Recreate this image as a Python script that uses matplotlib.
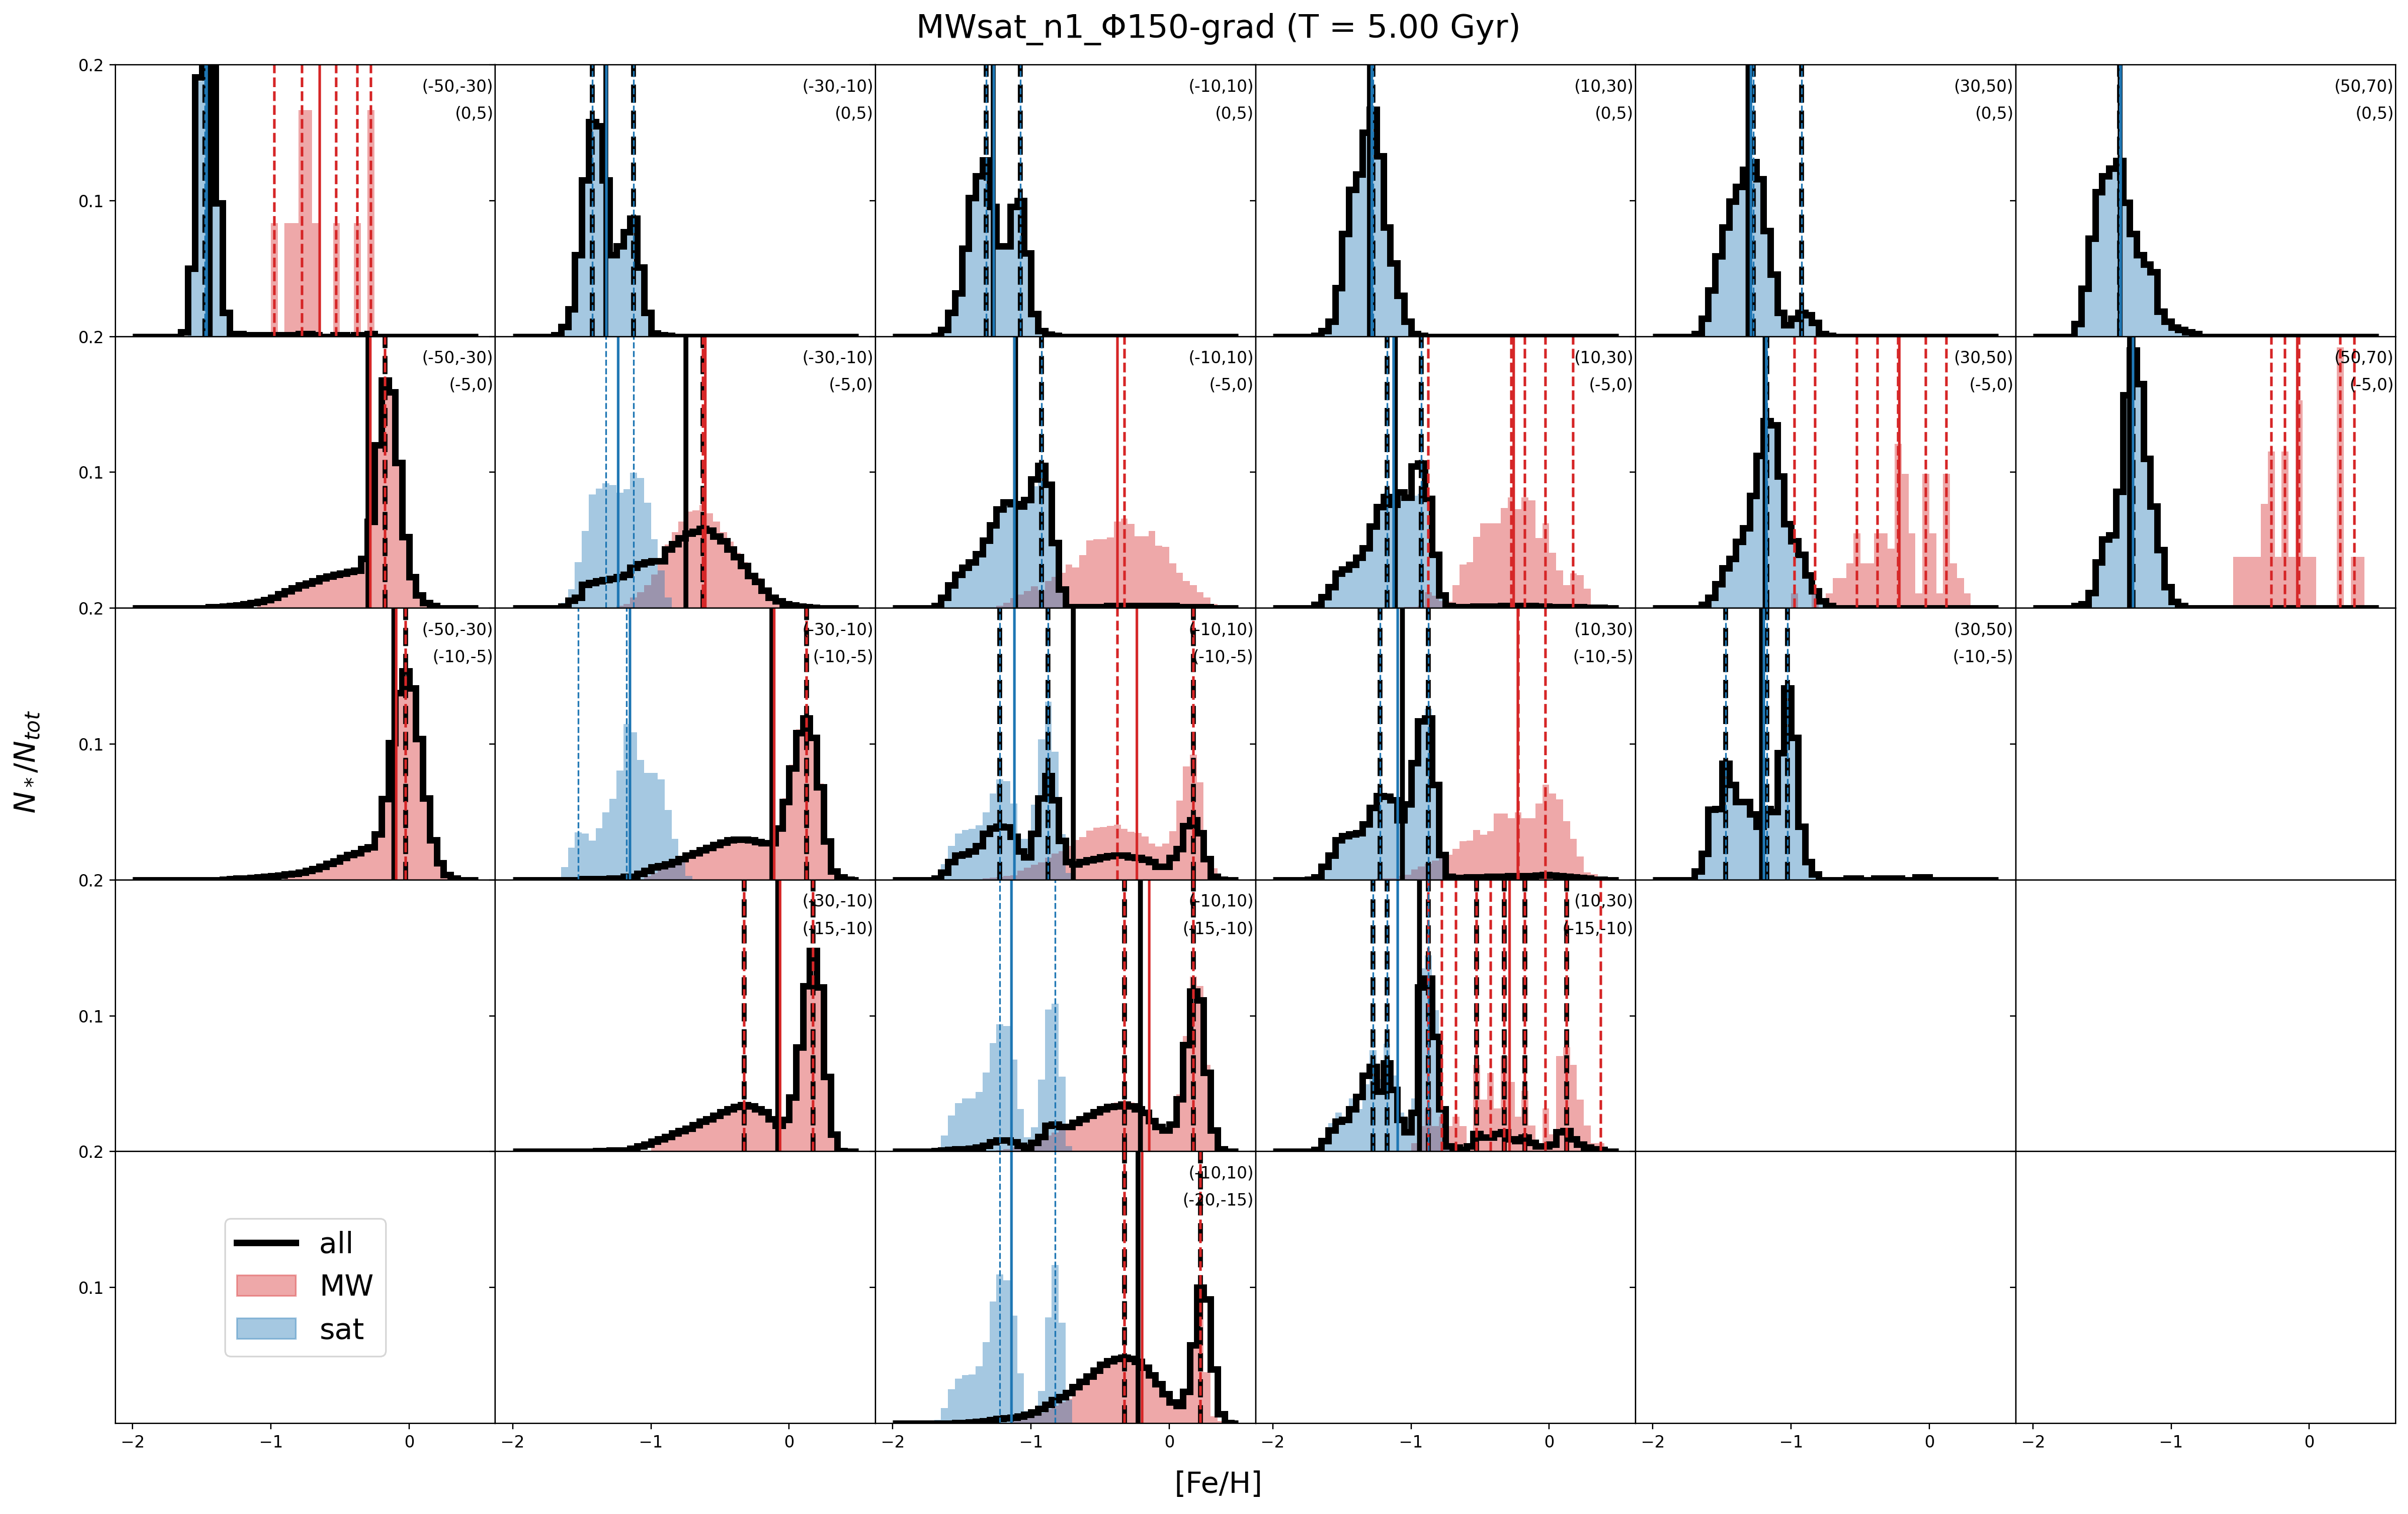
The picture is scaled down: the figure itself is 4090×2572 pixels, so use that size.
import numpy as np
import matplotlib.pyplot as plt
from matplotlib.lines import Line2D
from matplotlib.patches import Patch

# [Fe/H] bins shared by every panel
feh_edges = np.linspace(-2.0, 0.5, 51)

col_ranges = ['(-50,-30)', '(-30,-10)', '(-10,10)', '(10,30)', '(30,50)', '(50,70)']
row_ranges = ['(0,5)', '(-5,0)', '(-10,-5)', '(-15,-10)', '(-20,-15)']

# histograms: (left edge of first listed bin, fraction of stars per bin)
# means: (all, MW, sat); peaks: ([all], [MW], [sat])

# ---- z in (0,5)
all_r0c0 = (-1.65, [0.0035, 0.050, 0.191, 0.36, 0.29, 0.098, 0.0176, 0.002, 0.002, 0.001,
                    0.001, 0.001, 0.001, 0.001, 0.001, 0.001, 0.001, 0.002, 0.002, 0.001,
                    0.0, 0.0, 0.001, 0.001, 0.0, 0.001, 0.001, 0.002])
sat_r0c0 = (-1.6, [0.048, 0.188, 0.36, 0.29, 0.0975, 0.016])
mw_r0c0 = (-1.0, [0.0833, 0, 0.0833, 0.0833, 0.1667, 0.1667, 0.0833, 0, 0, 0.0833,
                  0, 0, 0.0833, 0, 0.1667])
mean_r0c0 = (-1.44, -0.646, -1.463)
peaks_r0c0 = ([-1.475], [-0.975, -0.775, -0.525, -0.375, -0.275], [-1.475])

all_r0c1 = (-1.7, [0.001, 0.007, 0.020, 0.060, 0.115, 0.158, 0.155, 0.115, 0.060, 0.0665,
                   0.077, 0.087, 0.051, 0.0176, 0.0026, 0.001, 0.0005])
sat_r0c1 = all_r0c1
mean_r0c1 = (-1.325, None, -1.32)
peaks_r0c1 = ([-1.425, -1.125], [], [-1.425, -1.125])

all_r0c2 = (-1.7, [0.0005, 0.005, 0.0176, 0.0317, 0.0648, 0.102, 0.118, 0.130, 0.0955, 0.0665,
                   0.0665, 0.0955, 0.100, 0.0615, 0.0167, 0.0043, 0.0015, 0.0007])
sat_r0c2 = all_r0c2
mean_r0c2 = (-1.275, None, -1.27)
peaks_r0c2 = ([-1.325, -1.075], [], [-1.325, -1.075])

all_r0c3 = (-1.7, [0.0005, 0.0043, 0.011, 0.0358, 0.0756, 0.108, 0.1196, 0.150, 0.167, 0.133,
                   0.0806, 0.054, 0.030, 0.011, 0.0018, 0.0005])
sat_r0c3 = all_r0c3
mean_r0c3 = (-1.30, None, -1.285)
peaks_r0c3 = ([-1.275], [], [-1.275])

all_r0c4 = (-1.7, [0.0018, 0.0134, 0.034, 0.059, 0.0806, 0.0997, 0.1104, 0.1229, 0.1287, 0.116,
                   0.078, 0.0458, 0.0174, 0.0084, 0.0134, 0.0174, 0.0159, 0.0101, 0.0018, 0.0005])
sat_r0c4 = all_r0c4
mean_r0c4 = (-1.31, None, -1.29)
peaks_r0c4 = ([-1.275, -0.925], [], [-1.275, -0.925])

all_r0c5 = (-1.7, [0.0093, 0.0353, 0.0723, 0.1066, 0.118, 0.1237, 0.1295, 0.0988, 0.0756, 0.0599,
                   0.0532, 0.0474, 0.0184, 0.011, 0.0068, 0.0051, 0.0035, 0.0018])
sat_r0c5 = all_r0c5
mean_r0c5 = (-1.37, None, -1.365)
peaks_r0c5 = ([-1.375], [], [-1.375])

# ---- z in (-5,0)
all_r1c0 = (-1.45, [0.001, 0.001, 0.0014, 0.0019, 0.0023, 0.003, 0.0038, 0.005, 0.0062, 0.008,
                    0.0104, 0.0127, 0.015, 0.017, 0.0185, 0.020, 0.022, 0.0234, 0.0246, 0.0257,
                    0.027, 0.028, 0.0366, 0.064, 0.120, 0.168, 0.159, 0.107, 0.0525, 0.023,
                    0.0098, 0.004, 0.002])
mw_r1c0 = (-1.1, [0.004, 0.0055, 0.0075, 0.010, 0.0125, 0.015, 0.017, 0.0185, 0.020, 0.022,
                  0.0234, 0.0246, 0.0257, 0.027, 0.028, 0.0366, 0.064, 0.120, 0.168, 0.159,
                  0.107, 0.0525, 0.023, 0.0098, 0.004, 0.002])
mean_r1c0 = (-0.296, -0.279, None)
peaks_r1c0 = ([-0.175], [-0.175], [])

all_r1c1 = (-1.65, [0.0016, 0.0059, 0.0081, 0.0175, 0.0187, 0.0201, 0.0211, 0.0218, 0.023, 0.0247,
                    0.0298, 0.0327, 0.0341, 0.0349, 0.0349, 0.0435, 0.0472, 0.0515, 0.0551, 0.0566,
                    0.0587, 0.0573, 0.053, 0.0493, 0.0435, 0.0378, 0.0312, 0.024, 0.0197, 0.0132,
                    0.0081, 0.0052, 0.003, 0.0023, 0.0016, 0.0009, 0.0004])
sat_r1c1 = (-1.65, [0.004, 0.014, 0.0337, 0.0568, 0.0839, 0.0882, 0.0918, 0.0908, 0.085, 0.0876,
                    0.0998, 0.0959, 0.0775, 0.051, 0.028, 0.008])
mw_r1c1 = (-1.25, [0.002, 0.0033, 0.0077, 0.012, 0.017, 0.025, 0.032, 0.0467, 0.056, 0.064,
                   0.0713, 0.072, 0.076, 0.070, 0.064, 0.056, 0.049, 0.041, 0.0337, 0.0257,
                   0.022, 0.0134, 0.0091, 0.0069, 0.0048, 0.0033, 0.0019, 0.0012, 0.0008])
mean_r1c1 = (-0.747, -0.605, -1.235)
peaks_r1c1 = ([-0.625], [-0.625], [-1.325, -1.125])

all_r1c2 = (-1.7, [0.002, 0.0077, 0.017, 0.025, 0.030, 0.034, 0.040, 0.050, 0.061, 0.073,
                   0.078, 0.077, 0.075, 0.080, 0.095, 0.105, 0.091, 0.048, 0.014, 0.001,
                   0.001, 0.001, 0.001, 0.001, 0.001, 0.002, 0.002, 0.002, 0.002, 0.002,
                   0.002, 0.002, 0.002, 0.002, 0.002, 0.001, 0.001, 0.001, 0.001, 0.001])
sat_r1c2 = (-1.7, [0.002, 0.0077, 0.017, 0.025, 0.030, 0.034, 0.040, 0.050, 0.061, 0.073,
                   0.078, 0.077, 0.075, 0.080, 0.090, 0.093, 0.091, 0.050, 0.015])
mw_r1c2 = (-1.3, [0.0005, 0.002, 0.004, 0.0075, 0.010, 0.0127, 0.016, 0.013, 0.020, 0.023,
                  0.026, 0.032, 0.030, 0.039, 0.050, 0.051, 0.051, 0.052, 0.064, 0.066,
                  0.062, 0.053, 0.053, 0.057, 0.046, 0.045, 0.033, 0.026, 0.020, 0.017,
                  0.012, 0.0077, 0.0033])
mean_r1c2 = (-1.112, -0.376, -1.12)
peaks_r1c2 = ([-0.925], [-0.325], [-0.925])

all_r1c3 = (-1.7, [0.0025, 0.0083, 0.0155, 0.0255, 0.0285, 0.0322, 0.0373, 0.0445, 0.0605, 0.0748,
                   0.0821, 0.0765, 0.0855, 0.0815, 0.1045, 0.1065, 0.0805, 0.0395, 0.0095, 0.002,
                   0.001, 0.001, 0.001, 0.0015, 0.0015, 0.0015, 0.0015, 0.002, 0.002, 0.002,
                   0.002, 0.002, 0.0015, 0.0015, 0.001, 0.001, 0.001, 0.001, 0.001, 0.0005,
                   0.0005, 0.0005])
sat_r1c3 = (-1.7, [0.0025, 0.0083, 0.0155, 0.0255, 0.0285, 0.032, 0.037, 0.0445, 0.0605, 0.0748,
                   0.085, 0.080, 0.086, 0.082, 0.083, 0.084, 0.079, 0.040, 0.010, 0.002])
mw_r1c3 = (-1.05, [0.001, 0.001, 0.002, 0.012, 0.009, 0.0055, 0.0048, 0.017, 0.032, 0.034,
                   0.0525, 0.0626, 0.0626, 0.0626, 0.0738, 0.0814, 0.0727, 0.0814, 0.0795, 0.0518,
                   0.0626, 0.041, 0.028, 0.017, 0.0257, 0.0243, 0.0142, 0.0019, 0.0019])
mean_r1c3 = (-1.115, -0.255, -1.125)
peaks_r1c3 = ([-1.175, -0.925], [-0.875, -0.275, -0.175, -0.025, 0.175], [-1.175, -0.925])

all_r1c4 = (-1.65, [0.0026, 0.0077, 0.0178, 0.0294, 0.0366, 0.049, 0.059, 0.083, 0.1125, 0.138,
                    0.135, 0.097, 0.0619, 0.0496, 0.0395, 0.0243, 0.0127, 0.0055, 0.0019])
sat_r1c4 = all_r1c4
mw_r1c4 = (-1.0, [0.011, 0, 0, 0.011, 0, 0.011, 0.022, 0.022, 0.033, 0.055,
                  0.033, 0.033, 0.055, 0.055, 0.044, 0.121, 0.099, 0.055, 0.011, 0.099,
                  0.055, 0.011, 0.099, 0.033, 0.022, 0.011])
mean_r1c4 = (-1.19, -0.218, -1.18)
peaks_r1c4 = ([-1.175], [-0.975, -0.825, -0.525, -0.375, -0.225, -0.025, 0.125], [-1.175])

all_r1c5 = (-1.7, [0.002, 0.003, 0.0115, 0.034, 0.051, 0.054, 0.086, 0.157, 0.19, 0.165,
                   0.11, 0.075, 0.043, 0.0156, 0.0048, 0.0019])
sat_r1c5 = all_r1c5
mw_r1c5 = (-0.55, [0.038, 0.038, 0.038, 0.038, 0.0766, 0.1154, 0.038, 0.1154, 0.038, 0.153,
                   0.038, 0.038, 0, 0, 0, 0.192, 0, 0.038, 0.038])
mean_r1c5 = (-1.30, -0.087, -1.274)
peaks_r1c5 = ([-1.275], [-0.275, -0.175, -0.075, 0.225, 0.325], [-1.275])

# ---- z in (-10,-5)
all_r2c0 = (-1.35, [0.0005, 0.0006, 0.001, 0.0013, 0.0017, 0.0022, 0.0025, 0.003, 0.0035, 0.0042,
                    0.0046, 0.0054, 0.0068, 0.0083, 0.0097, 0.0119, 0.0138, 0.0162, 0.0184, 0.0198,
                    0.023, 0.024, 0.0336, 0.0596, 0.1008, 0.1377, 0.1536, 0.1413, 0.1037, 0.0603,
                    0.0292, 0.0126, 0.0039, 0.001])
mw_r2c0 = (-0.9, [0.0042, 0.0046, 0.0054, 0.0068, 0.0083, 0.0097, 0.0119, 0.0138, 0.0162, 0.0184,
                  0.0198, 0.023, 0.024, 0.0336, 0.0596, 0.1008, 0.1377, 0.1536, 0.1413, 0.1037,
                  0.0603, 0.0292, 0.0126, 0.0039, 0.001])
mean_r2c0 = (-0.108, -0.093, None)
peaks_r2c0 = ([-0.025], [-0.025], [])

all_r2c1 = (-1.5, [0.0008, 0.0008, 0.0008, 0.0008, 0.001, 0.001, 0.0025, 0.0025, 0.0045, 0.007,
                   0.0095, 0.0105, 0.0114, 0.0135, 0.0157, 0.0179, 0.020, 0.0219, 0.0237, 0.0258,
                   0.0277, 0.0292, 0.0297, 0.0297, 0.0292, 0.028, 0.0273, 0.0273, 0.0381, 0.0576,
                   0.0822, 0.1083, 0.1191, 0.1046, 0.0685, 0.0287, 0.0063, 0.002, 0.0005])
sat_r2c1 = (-1.65, [0.0093, 0.0237, 0.035, 0.034, 0.0291, 0.0381, 0.0497, 0.0599, 0.0804, 0.1148,
                    0.1087, 0.0881, 0.0787, 0.0787, 0.074, 0.0515, 0.0302, 0.0136, 0.003])
mw_r2c1 = (-1.05, [0.003, 0.005, 0.008, 0.011, 0.0145, 0.0175, 0.0195, 0.022, 0.024, 0.026,
                   0.028, 0.030, 0.031, 0.032, 0.032, 0.031, 0.030, 0.029, 0.029, 0.040,
                   0.060, 0.085, 0.111, 0.121, 0.107, 0.071, 0.030, 0.008, 0.0035, 0.001])
mean_r2c1 = (-0.125, -0.108, -1.15)
peaks_r2c1 = ([0.125], [0.125], [-1.525, -1.175])

all_r2c2 = (-1.7, [0.001, 0.0056, 0.0135, 0.018, 0.019, 0.021, 0.025, 0.034, 0.038, 0.0395,
                   0.039, 0.032, 0.021, 0.017, 0.034, 0.060, 0.0765, 0.059, 0.029, 0.0135,
                   0.0114, 0.0135, 0.0147, 0.0157, 0.0167, 0.0176, 0.018, 0.018, 0.017, 0.0165,
                   0.015, 0.0132, 0.0099, 0.0099, 0.0165, 0.023, 0.0396, 0.044, 0.0345, 0.0157,
                   0.0027, 0.0005])
sat_r2c2 = (-1.65, [0.0114, 0.0252, 0.0341, 0.0367, 0.0375, 0.0403, 0.0497, 0.0635, 0.074, 0.0726,
                    0.0563, 0.0302, 0.0302, 0.0555, 0.1035, 0.131, 0.0943, 0.0338, 0.005])
mw_r2c2 = (-1.35, [0.001, 0.0015, 0.002, 0.003, 0.0035, 0.007, 0.009, 0.011, 0.013, 0.0165,
                   0.0195, 0.021, 0.025, 0.0295, 0.0317, 0.0362, 0.0384, 0.0391, 0.0398, 0.0405,
                   0.0376, 0.0355, 0.0347, 0.0318, 0.0266, 0.0245, 0.0266, 0.0358, 0.0584, 0.0837,
                   0.0924, 0.0719, 0.016, 0.0085, 0.002])
mean_r2c2 = (-0.695, -0.233, -1.118)
peaks_r2c2 = ([-1.225, -0.875, 0.175], [-0.375, 0.175], [-1.225, -0.875])

all_r2c3 = (-1.75, [0.0005, 0.002, 0.010, 0.018, 0.0294, 0.0323, 0.0338, 0.0345, 0.041, 0.0533,
                    0.062, 0.0613, 0.059, 0.044, 0.056, 0.086, 0.117, 0.119, 0.070, 0.0186,
                    0.0027, 0.0015, 0.0015, 0.002, 0.002, 0.002, 0.0025, 0.0025, 0.0025, 0.003,
                    0.003, 0.003, 0.003, 0.0035, 0.004, 0.0035, 0.003, 0.0025, 0.002, 0.0015,
                    0.001, 0.0005, 0.0005])
sat_r2c3 = (-1.75, [0.0005, 0.002, 0.011, 0.019, 0.030, 0.033, 0.035, 0.036, 0.042, 0.055,
                    0.064, 0.063, 0.058, 0.057, 0.058, 0.088, 0.118, 0.126, 0.072, 0.020,
                    0.003])
mw_r2c3 = (-1.25, [0.001, 0.001, 0.001, 0.003, 0.004, 0.0078, 0.010, 0.012, 0.0143, 0.018,
                   0.0187, 0.023, 0.0283, 0.0288, 0.0367, 0.0331, 0.036, 0.049, 0.049, 0.0454,
                   0.0497, 0.0454, 0.0454, 0.0563, 0.070, 0.0635, 0.0591, 0.0432, 0.0302, 0.0172,
                   0.0056, 0.0042, 0.002])
mean_r2c3 = (-1.062, -0.229, -1.097)
peaks_r2c3 = ([-1.225, -0.875], [-0.225, -0.025], [-1.225, -0.875])

all_r2c4 = (-1.7, [0.0062, 0.0192, 0.0518, 0.0525, 0.0858, 0.0702, 0.0577, 0.0577, 0.0486, 0.0395,
                   0.0525, 0.050, 0.0936, 0.141, 0.1046, 0.0395, 0.0135, 0.0044, 0.0, 0.0,
                   0.0, 0.0, 0.001, 0.001, 0.0, 0.0, 0.001, 0.001, 0.001, 0.001,
                   0.0, 0.0, 0.002, 0.002])
sat_r2c4 = all_r2c4
mean_r2c4 = (-1.215, None, -1.197)
peaks_r2c4 = ([-1.475, -1.175, -1.025], [], [-1.475, -1.175, -1.025])

# ---- z in (-15,-10)
all_r3c1 = (-1.4, [0.0004, 0.0004, 0.0011, 0.0011, 0.0011, 0.0023, 0.004, 0.0054, 0.0076, 0.0091,
                   0.0112, 0.0134, 0.0153, 0.017, 0.0196, 0.0221, 0.0242, 0.0264, 0.0293, 0.0315,
                   0.0329, 0.0344, 0.0336, 0.0315, 0.0293, 0.0242, 0.0192, 0.0235, 0.0401, 0.077,
                   0.1219, 0.1479, 0.1211, 0.0553, 0.0127, 0.0004])
mw_r3c1 = (-1.0, [0.0076, 0.0091, 0.0112, 0.0134, 0.0153, 0.017, 0.0196, 0.0221, 0.0242, 0.0264,
                  0.0293, 0.0315, 0.0329, 0.0344, 0.0336, 0.0315, 0.0293, 0.0242, 0.0192, 0.0235,
                  0.0401, 0.077, 0.1219, 0.1479, 0.1211, 0.0553, 0.0127, 0.0004])
mean_r3c1 = (-0.081, -0.067, None)
peaks_r3c1 = ([-0.325, 0.175], [-0.325, 0.175], [])

all_r3c2 = (-1.7, [0.0005, 0.0011, 0.0014, 0.0018, 0.0021, 0.0025, 0.0033, 0.0047, 0.0069, 0.0083,
                   0.0083, 0.0069, 0.0047, 0.0033, 0.0066, 0.0112, 0.0192, 0.0199, 0.0185, 0.0185,
                   0.0214, 0.0242, 0.0264, 0.0293, 0.0315, 0.0329, 0.0336, 0.0347, 0.0336, 0.0315,
                   0.0286, 0.0228, 0.0185, 0.0157, 0.0199, 0.0387, 0.0785, 0.1182, 0.1117, 0.0582,
                   0.0157, 0.0018])
sat_r3c2 = (-1.7, [0.002, 0.012, 0.0265, 0.0359, 0.039, 0.039, 0.0438, 0.0583, 0.080, 0.0937,
                   0.0923, 0.0677, 0.0312, 0.0106, 0.0178, 0.0529, 0.1046, 0.1089, 0.0554, 0.004])
mw_r3c2 = (-1.25, [0.001, 0.002, 0.003, 0.004, 0.005, 0.007, 0.0095, 0.012, 0.014, 0.017,
                   0.019, 0.022, 0.025, 0.028, 0.031, 0.033, 0.035, 0.036, 0.037, 0.036,
                   0.034, 0.031, 0.025, 0.020, 0.017, 0.022, 0.042, 0.085, 0.129, 0.122,
                   0.064, 0.017, 0.002])
mean_r3c2 = (-0.208, -0.144, -1.141)
peaks_r3c2 = ([-0.325, 0.175], [-0.325, 0.175], [-1.225, -0.825])

all_r3c3 = (-1.7, [0.0016, 0.008, 0.0159, 0.0224, 0.0237, 0.0315, 0.0406, 0.056, 0.0627, 0.0445,
                   0.0653, 0.0458, 0.0237, 0.0146, 0.0289, 0.1212, 0.1277, 0.0848, 0.0315, 0.0042,
                   0.003, 0.0016, 0.004, 0.0133, 0.0107, 0.0107, 0.0133, 0.0146, 0.0094, 0.008,
                   0.0107, 0.0068, 0.0042, 0.0042, 0.0055, 0.0146, 0.0153, 0.0094, 0.0055, 0.003,
                   0.002, 0.0016])
sat_r3c3 = (-1.65, [0.008, 0.0211, 0.0289, 0.0237, 0.0393, 0.0315, 0.0494, 0.0749, 0.0533, 0.0796,
                    0.0562, 0.0289, 0.025, 0.0393, 0.135, 0.1446, 0.104, 0.0315, 0.004])
mw_r3c3 = (-1.0, [0.0064, 0.019, 0.032, 0.019, 0.0256, 0.019, 0.0256, 0.019, 0.0064, 0.064,
                  0.0384, 0.0576, 0.032, 0.0704, 0.0512, 0.0256, 0.0448, 0.0192, 0.0064, 0.032,
                  0.0128, 0.0704, 0.0768, 0.064, 0.0384, 0.0192, 0.0064, 0.0064])
mean_r3c3 = (-0.937, -0.286, -1.097)
peaks_r3c3 = ([-1.275, -1.175, -0.875, -0.525, -0.325, -0.175, 0.125],
              [-0.875, -0.775, -0.675, -0.525, -0.425, -0.325, -0.175, -0.025, 0.125, 0.375],
              [-1.275, -1.175, -0.875])

# ---- z in (-20,-15)
all_r4c2 = (-1.55, [0.0002, 0.0005, 0.0007, 0.0012, 0.0019, 0.0026, 0.0033, 0.0037, 0.0042, 0.0051,
                    0.0063, 0.008, 0.0106, 0.0138, 0.0173, 0.0194, 0.0225, 0.0269, 0.0309, 0.0347,
                    0.0391, 0.0431, 0.046, 0.0478, 0.0486, 0.0478, 0.0455, 0.0413, 0.0356, 0.0291,
                    0.0216, 0.0155, 0.0129, 0.0234, 0.0574, 0.1001, 0.0914, 0.0399, 0.0071, 0.0005])
sat_r4c2 = (-1.7, [0.0026, 0.0113, 0.0253, 0.0328, 0.0357, 0.0361, 0.0422, 0.0598, 0.0898, 0.1095,
                   0.1051, 0.0793, 0.037, 0.009, 0.008, 0.024, 0.078, 0.1165, 0.0741, 0.0174])
mw_r4c2 = (-1.15, [0.0017, 0.0026, 0.0038, 0.0056, 0.0078, 0.0105, 0.0131, 0.0157, 0.0183, 0.0255,
                   0.030, 0.034, 0.038, 0.042, 0.045, 0.047, 0.048, 0.047, 0.045, 0.041,
                   0.035, 0.028, 0.021, 0.015, 0.0125, 0.0215, 0.0555, 0.0895, 0.0375, 0.0052,
                   0.0017])
mean_r4c2 = (-0.224, -0.196, -1.139)
peaks_r4c2 = ([-0.325, 0.225], [-0.325, 0.225], [-1.225, -0.825])

panels = {
    (0, 0): (all_r0c0, mw_r0c0, sat_r0c0, mean_r0c0, peaks_r0c0),
    (0, 1): (all_r0c1, None, sat_r0c1, mean_r0c1, peaks_r0c1),
    (0, 2): (all_r0c2, None, sat_r0c2, mean_r0c2, peaks_r0c2),
    (0, 3): (all_r0c3, None, sat_r0c3, mean_r0c3, peaks_r0c3),
    (0, 4): (all_r0c4, None, sat_r0c4, mean_r0c4, peaks_r0c4),
    (0, 5): (all_r0c5, None, sat_r0c5, mean_r0c5, peaks_r0c5),
    (1, 0): (all_r1c0, mw_r1c0, None, mean_r1c0, peaks_r1c0),
    (1, 1): (all_r1c1, mw_r1c1, sat_r1c1, mean_r1c1, peaks_r1c1),
    (1, 2): (all_r1c2, mw_r1c2, sat_r1c2, mean_r1c2, peaks_r1c2),
    (1, 3): (all_r1c3, mw_r1c3, sat_r1c3, mean_r1c3, peaks_r1c3),
    (1, 4): (all_r1c4, mw_r1c4, sat_r1c4, mean_r1c4, peaks_r1c4),
    (1, 5): (all_r1c5, mw_r1c5, sat_r1c5, mean_r1c5, peaks_r1c5),
    (2, 0): (all_r2c0, mw_r2c0, None, mean_r2c0, peaks_r2c0),
    (2, 1): (all_r2c1, mw_r2c1, sat_r2c1, mean_r2c1, peaks_r2c1),
    (2, 2): (all_r2c2, mw_r2c2, sat_r2c2, mean_r2c2, peaks_r2c2),
    (2, 3): (all_r2c3, mw_r2c3, sat_r2c3, mean_r2c3, peaks_r2c3),
    (2, 4): (all_r2c4, None, sat_r2c4, mean_r2c4, peaks_r2c4),
    (3, 1): (all_r3c1, mw_r3c1, None, mean_r3c1, peaks_r3c1),
    (3, 2): (all_r3c2, mw_r3c2, sat_r3c2, mean_r3c2, peaks_r3c2),
    (3, 3): (all_r3c3, mw_r3c3, sat_r3c3, mean_r3c3, peaks_r3c3),
    (4, 2): (all_r4c2, mw_r4c2, sat_r4c2, mean_r4c2, peaks_r4c2),
}

RED = 'tab:red'
BLUE = 'tab:blue'


def to_bins(series):
    start, vals = series
    h = np.zeros(len(feh_edges) - 1)
    i0 = int(round((start - feh_edges[0]) / (feh_edges[1] - feh_edges[0])))
    h[i0:i0 + len(vals)] = vals
    return h


fig, axes = plt.subplots(5, 6, sharex=True, sharey=True, figsize=(20.45, 12.86))
fig.subplots_adjust(left=0.0479, right=0.9949, top=0.9572, bottom=0.0599,
                    wspace=0, hspace=0)

for (r, c), (h_all, h_mw, h_sat, means, peaks) in panels.items():
    ax = axes[r, c]
    if h_mw is not None:
        ax.stairs(to_bins(h_mw), feh_edges, fill=True, color=RED, alpha=0.4, lw=0)
    if h_sat is not None:
        ax.stairs(to_bins(h_sat), feh_edges, fill=True, color=BLUE, alpha=0.4, lw=0)
    ax.stairs(to_bins(h_all), feh_edges, color='k', lw=4)

    m_all, m_mw, m_sat = means
    pk_all, pk_mw, pk_sat = peaks
    ax.axvline(m_all, color='k', lw=3)
    for x in pk_all:
        ax.axvline(x, color='k', ls='--', lw=3)
    if m_mw is not None:
        ax.axvline(m_mw, color=RED, lw=1.6)
    for x in pk_mw:
        ax.axvline(x, color=RED, ls='--', lw=1.6)
    if m_sat is not None:
        ax.axvline(m_sat, color=BLUE, lw=1.6)
    for x in pk_sat:
        ax.axvline(x, color=BLUE, ls='--', lw=1.0)

    ax.text(0.995, 0.95, col_ranges[c], ha='right', va='top',
            transform=ax.transAxes, fontsize=10)
    ax.text(0.995, 0.85, row_ranges[r], ha='right', va='top',
            transform=ax.transAxes, fontsize=10)

ax0 = axes[0, 0]
ax0.set_xlim(-2.125, 0.625)
ax0.set_ylim(0, 0.2)
ax0.set_xticks([-2, -1, 0])
ax0.set_yticks([0.1, 0.2])

handles = [Line2D([], [], color='k', lw=4, label='all'),
           Patch(color=RED, alpha=0.4, label='MW'),
           Patch(color=BLUE, alpha=0.4, label='sat')]
axes[4, 0].legend(handles=handles, loc='center', fontsize=18)

fig.text(0.506, 0.9914, 'MWsat_n1_\u03a6150-grad (T = 5.00 Gyr)',
         ha='center', va='top', fontsize=20)
fig.text(0.506, 0.0194, '[Fe/H]', ha='center', va='center', fontsize=18)
fig.text(0.0115, 0.497, r'$N_*/N_{tot}$', rotation=90,
         ha='center', va='center', fontsize=18)

fig.savefig('out.png', dpi=200)
